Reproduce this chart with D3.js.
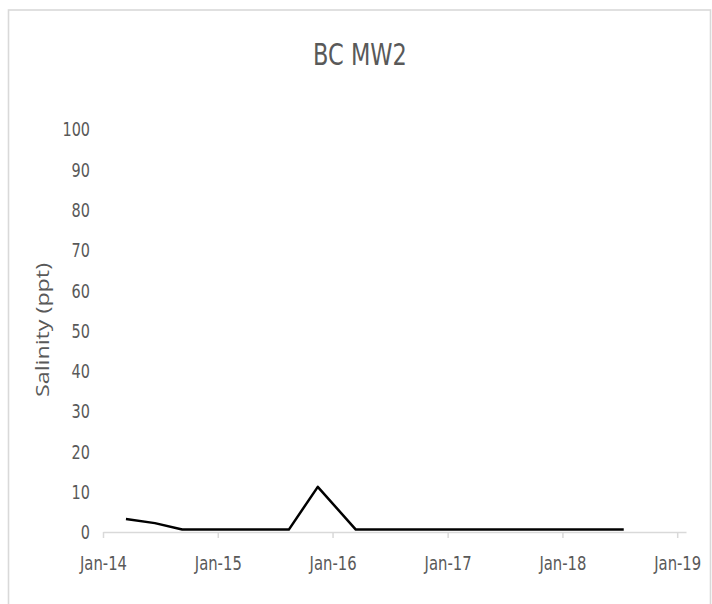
<!DOCTYPE html>
<html>
<head>
<meta charset="utf-8">
<script src="https://cdn.jsdelivr.net/npm/d3@7"></script>
<style>
  html, body { margin: 0; padding: 0; background: #fff; }
  svg { display: block; }
</style>
</head>
<body>
<svg id="chart" width="712" height="604"></svg>
<script>
const title = "BC MW2";
const yTitle = "Salinity (ppt)";
const sampleDates = ["2014-03-15", "2014-06-15", "2014-09-10", "2015-08-15", "2015-11-15", "2016-03-15", "2018-07-15"];
const salinity = [3.2, 2.2, 0.6, 0.6, 11.2, 0.6, 0.6];
const xTickDates = ["2014-01-01", "2015-01-01", "2016-01-01", "2017-01-01", "2018-01-01", "2019-01-01"];
const yTicks = [0, 10, 20, 30, 40, 50, 60, 70, 80, 90, 100];

const parse = d3.utcParse("%Y-%m-%d");
const data = sampleDates.map((d, i) => ({ date: parse(d), value: salinity[i] }));
const xTicks = xTickDates.map(parse);

const svg = d3.select("#chart");
const font = "'DejaVu Sans', sans-serif";
const grey = "#595959";

// squeeze text horizontally (to imitate a narrow font) while keeping it real text
function condense(sel, factor) {
  sel.each(function () {
    const w = this.getComputedTextLength();
    d3.select(this).attr("textLength", w * factor).attr("lengthAdjust", "spacingAndGlyphs");
  });
}

// chart area border
svg.append("rect")
  .attr("x", 8.5).attr("y", 10).attr("width", 702).attr("height", 620)
  .attr("fill", "none").attr("stroke", "#d9d9d9").attr("stroke-width", 1.6);

const x = d3.scaleUtc()
  .domain([parse("2014-01-01"), parse("2019-01-29")])
  .range([103, 686]);
const y = d3.scaleLinear().domain([0, 100]).range([532, 129]);

// title
const t = svg.append("text")
  .attr("x", 360).attr("y", 65)
  .attr("text-anchor", "middle")
  .attr("font-family", font).attr("font-size", 30)
  .attr("fill", grey)
  .text(title);
condense(t, 0.75);

// y axis labels (no axis line)
const yAxis = d3.axisLeft(y).tickValues(yTicks).tickSize(0).tickPadding(0);
const gy = svg.append("g").attr("transform", "translate(90,0)").call(yAxis);
gy.select(".domain").remove();
gy.selectAll("text")
  .attr("font-family", font).attr("font-size", 19)
  .attr("fill", grey).attr("dy", "0.36em");
condense(gy.selectAll("text"), 0.76);

// x axis
const xAxis = d3.axisBottom(x).tickValues(xTicks)
  .tickFormat(d3.utcFormat("%b-%y")).tickSize(6).tickSizeOuter(0);
const gx = svg.append("g").attr("transform", "translate(0,532)").call(xAxis);
gx.select(".domain").attr("stroke", "#d9d9d9").attr("stroke-width", 1.5);
gx.selectAll(".tick line").attr("stroke", "#d9d9d9").attr("stroke-width", 1.5);
gx.selectAll("text")
  .attr("font-family", font).attr("font-size", 19)
  .attr("fill", grey).attr("y", 38).attr("dy", 0);
condense(gx.selectAll("text"), 0.78);

// y title
const yt = svg.append("text")
  .attr("transform", "translate(49,330) rotate(-90)")
  .attr("text-anchor", "middle")
  .attr("font-family", "'Open Sans', sans-serif").attr("font-size", 18)
  .attr("fill", grey)
  .text(yTitle);
yt.attr("textLength", 134).attr("lengthAdjust", "spacingAndGlyphs");

// line
const line = d3.line().x(d => x(d.date)).y(d => y(d.value));
svg.append("path")
  .datum(data)
  .attr("d", line)
  .attr("fill", "none")
  .attr("stroke", "#000")
  .attr("stroke-width", 2.5)
  .attr("stroke-linejoin", "round");
</script>
</body>
</html>
